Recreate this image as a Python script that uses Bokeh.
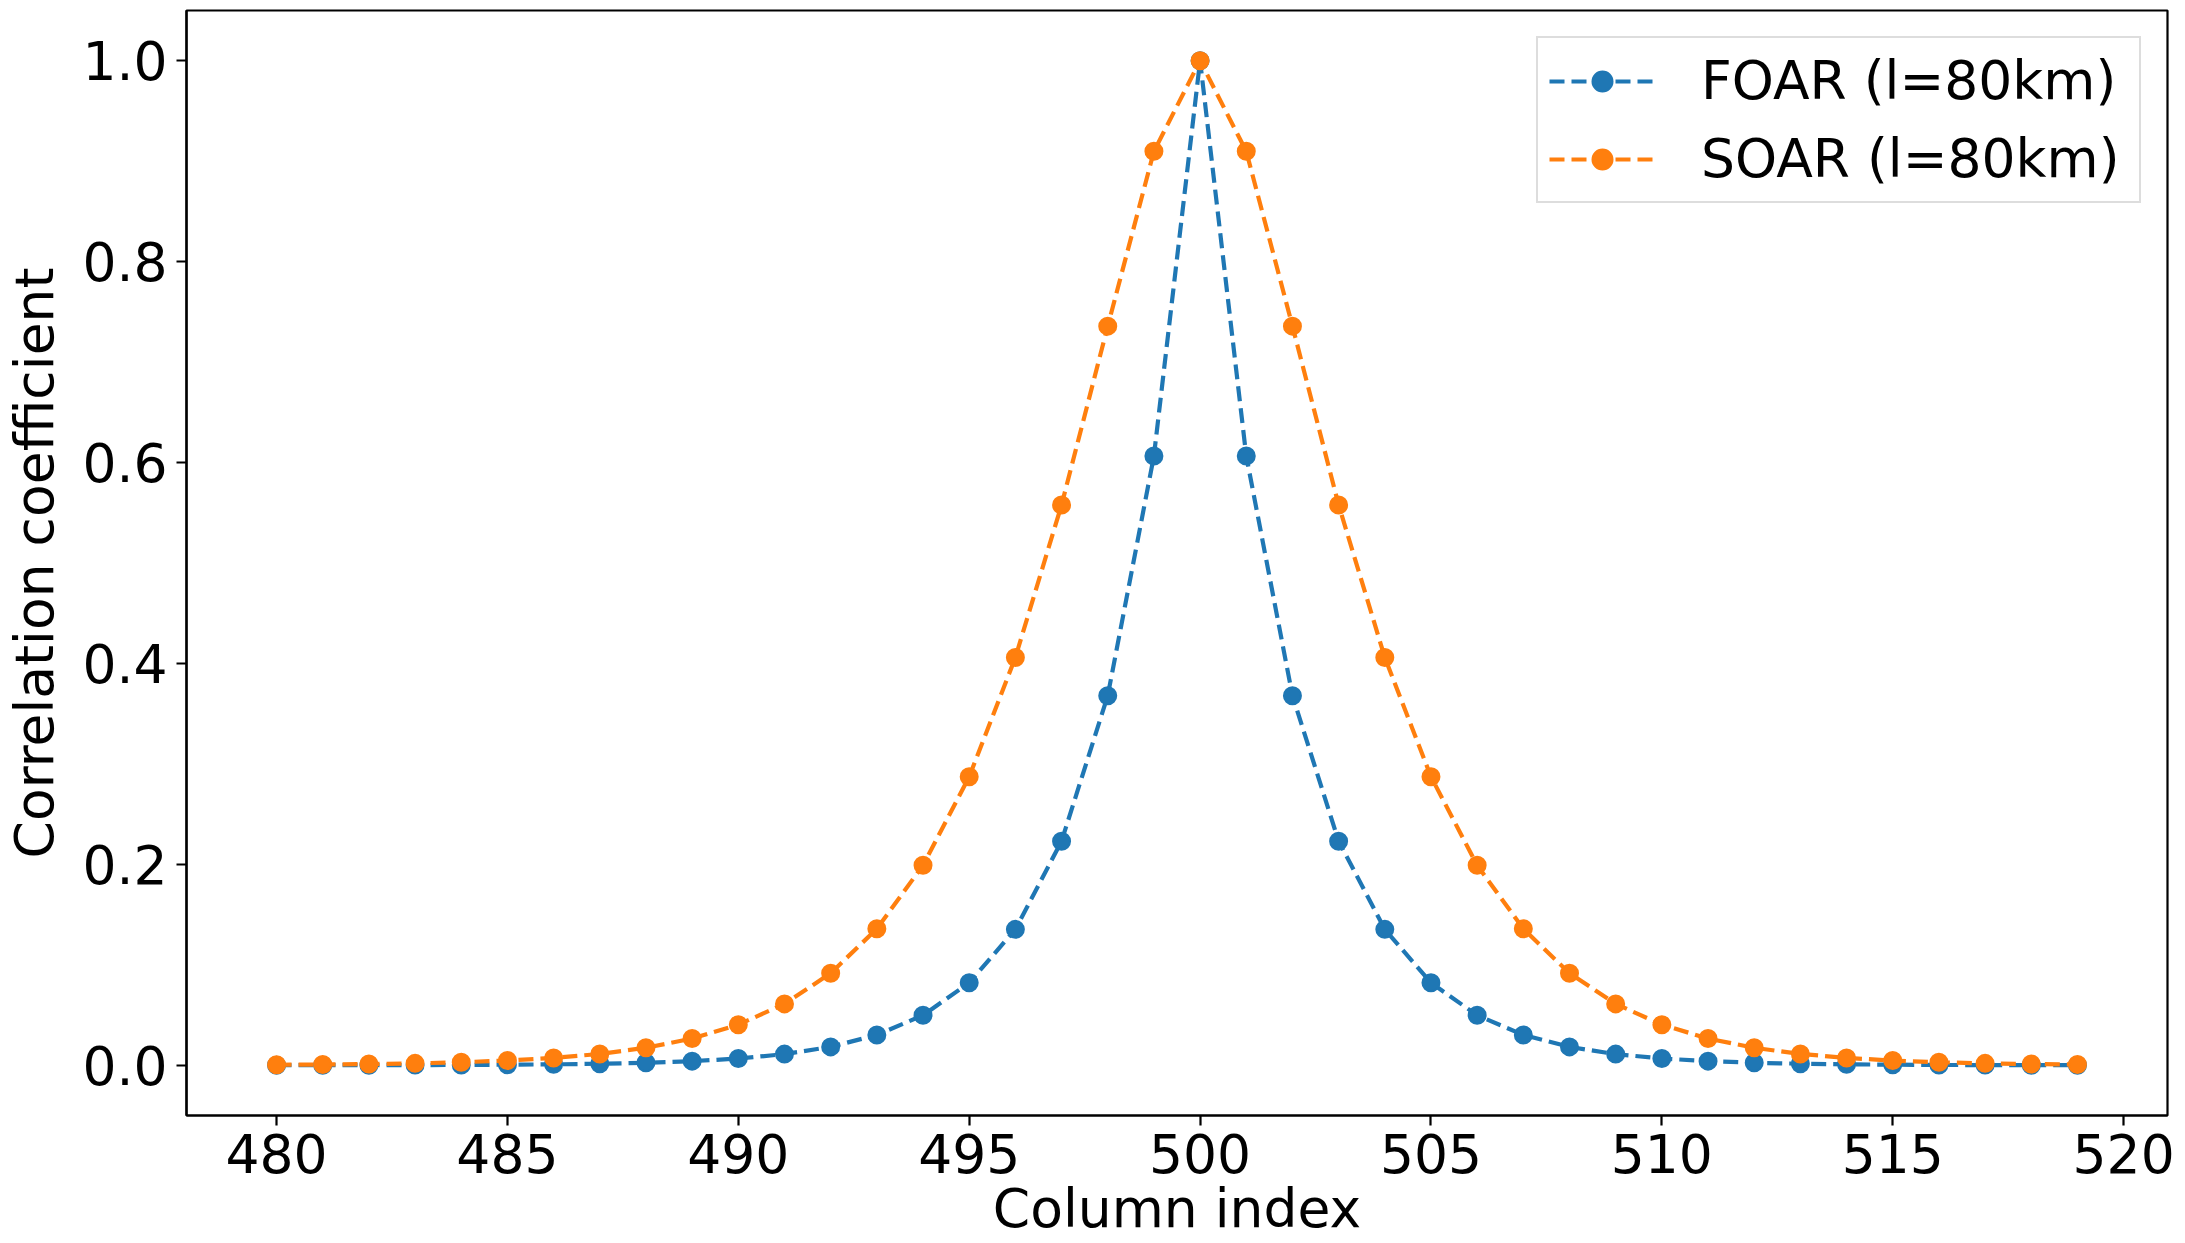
from bokeh.plotting import figure
from bokeh.models import FixedTicker, Range1d, Legend, LegendItem
from bokeh.embed import file_html
from bokeh.resources import INLINE

# ---- data ----
columns = list(range(480, 520))
foar = [0.0000, 0.0001, 0.0001, 0.0002, 0.0003, 0.0006, 0.0009, 0.0015, 0.0025, 0.0041,
        0.0067, 0.0111, 0.0183, 0.0302, 0.0498, 0.0821, 0.1353, 0.2231, 0.3679, 0.6065,
        1.0000,
        0.6065, 0.3679, 0.2231, 0.1353, 0.0821, 0.0498, 0.0302, 0.0183, 0.0111, 0.0067,
        0.0041, 0.0025, 0.0015, 0.0009, 0.0006, 0.0003, 0.0002, 0.0001, 0.0001]
soar = [0.0005, 0.0008, 0.0012, 0.0019, 0.0030, 0.0047, 0.0073, 0.0113, 0.0174, 0.0266,
        0.0404, 0.0611, 0.0916, 0.1359, 0.1991, 0.2873, 0.4060, 0.5578, 0.7358, 0.9098,
        1.0000,
        0.9098, 0.7358, 0.5578, 0.4060, 0.2873, 0.1991, 0.1359, 0.0916, 0.0611, 0.0404,
        0.0266, 0.0174, 0.0113, 0.0073, 0.0047, 0.0030, 0.0019, 0.0012, 0.0008]
series_names = ["FOAR (l=80km)", "SOAR (l=80km)"]
series_colors = ["#1f77b4", "#ff7f0e"]
x_ticks = [480, 485, 490, 495, 500, 505, 510, 515, 520]
y_ticks = [0.0, 0.2, 0.4, 0.6, 0.8, 1.0]
y_tick_labels = ["0.0", "0.2", "0.4", "0.6", "0.8", "1.0"]
x_label = "Column index"
y_label = "Correlation coefficient"

FONT = "DejaVu Sans"
FS = "53.5px"

p = figure(width=2185, height=1243, output_backend="svg", toolbar_location=None,
           x_range=Range1d(478.05, 520.95), y_range=Range1d(-0.05, 1.05),
           min_border_left=184, min_border_right=18, min_border_top=10, min_border_bottom=128)
p.background_fill_color = "white"
p.border_fill_color = "white"
p.outline_line_color = "black"
p.outline_line_width = 2.2
p.xgrid.visible = False
p.ygrid.visible = False

for ax in (p.xaxis[0], p.yaxis[0]):
    ax.axis_line_color = "black"
    ax.axis_line_width = 2.2
    ax.major_tick_line_color = "black"
    ax.major_tick_line_width = 2.2
    ax.major_tick_in = 0
    ax.major_tick_out = 10
    ax.minor_tick_line_color = None
    ax.major_label_text_font = FONT
    ax.major_label_text_font_size = FS
    ax.major_label_text_color = "black"
    ax.axis_label_text_font = FONT
    ax.axis_label_text_font_size = FS
    ax.axis_label_text_font_style = "normal"
    ax.axis_label_text_color = "black"

p.xaxis[0].ticker = FixedTicker(ticks=x_ticks)
p.yaxis[0].ticker = FixedTicker(ticks=y_ticks)
p.yaxis[0].major_label_overrides = {t: s for t, s in zip(y_ticks, y_tick_labels)}
p.xaxis[0].axis_label = x_label
p.yaxis[0].axis_label = y_label
p.xaxis[0].major_label_standoff = 8
p.xaxis[0].axis_label_standoff = 1
p.yaxis[0].major_label_standoff = 9
p.yaxis[0].axis_label_standoff = 13

items = []
for name, ys, col in zip(series_names, [foar, soar], series_colors):
    ln = p.line(columns, ys, line_color=col, line_width=4.2, line_dash="15 7")
    sc = p.scatter(columns, ys, size=17, fill_color=col, line_color=col, line_width=2)
    items.append(LegendItem(label=name, renderers=[ln, sc]))

legend = Legend(items=items, location="top_right", margin=26, padding=11, spacing=15,
                glyph_width=106, glyph_height=50, label_standoff=46, label_height=50,
                label_width=427,
                label_text_font=FONT, label_text_font_size=FS, label_text_color="black",
                border_line_color="#dddddd", border_line_width=2, border_line_alpha=1.0,
                background_fill_color="white", background_fill_alpha=0.8)
p.add_layout(legend)

open("out.html", "w").write(file_html(p, INLINE))
